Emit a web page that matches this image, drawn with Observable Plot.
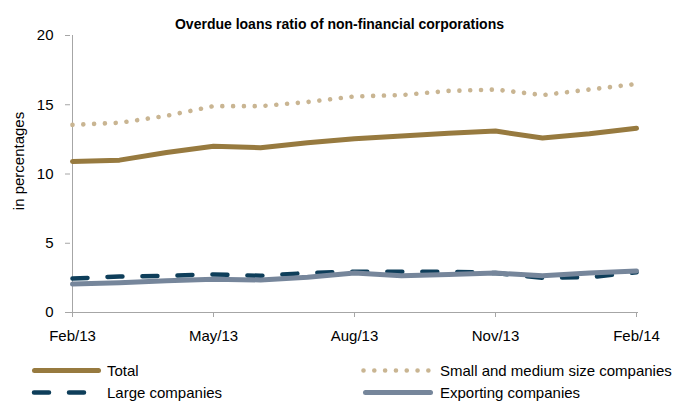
<!DOCTYPE html>
<html>
<head>
<meta charset="utf-8">
<script src="https://cdn.jsdelivr.net/npm/d3@7"></script>
<script src="https://cdn.jsdelivr.net/npm/@observablehq/plot@0.6"></script>
<style>
  html, body { margin: 0; padding: 0; background: #fff; }
  #wrap { position: relative; width: 675px; height: 403px; overflow: hidden; background: #fff; }
  #title { position: absolute; left: 0; width: 679px; text-align: center; font-weight: bold; color: #000; line-height: 20px; white-space: nowrap; }
  #chart { position: absolute; left: 0; top: 28px; }
  #legend { position: absolute; left: 0; top: 350px; }
  svg { overflow: visible; }
</style>
</head>
<body>
<div id="wrap">
  <div id="title">Overdue loans ratio of non-financial corporations</div>
  <div id="chart"></div>
  <div id="legend"></div>
</div>
<script>
// ---- data ----
const months = ["Feb/13","Mar/13","Apr/13","May/13","Jun/13","Jul/13","Aug/13","Sep/13","Oct/13","Nov/13","Dec/13","Jan/14","Feb/14"];
const total     = [10.9, 11.0, 11.55, 12.0, 11.9, 12.25, 12.55, 12.75, 12.95, 13.1, 12.6, 12.9, 13.3];
const sme       = [13.55, 13.7, 14.2, 14.9, 14.9, 15.2, 15.6, 15.7, 16.0, 16.1, 15.7, 16.1, 16.5];
const large     = [2.45, 2.6, 2.65, 2.75, 2.65, 2.85, 2.95, 2.95, 2.95, 2.85, 2.5, 2.55, 2.9];
const exporting = [2.05, 2.15, 2.3, 2.4, 2.35, 2.55, 2.85, 2.65, 2.75, 2.85, 2.65, 2.85, 3.0];
const seriesNames = ["Total", "Small and medium size companies", "Large companies", "Exporting companies"];
const xTickLabels = ["Feb/13","May/13","Aug/13","Nov/13","Feb/14"];
const yTicks = [0, 5, 10, 15, 20];

// ---- styles ----
const seriesColors = ["#977A3F", "#C9B592", "#0E3E5A", "#76869B"];
const seriesStyles = [
  {strokeWidth: 5, strokeLinecap: "round", strokeLinejoin: "round"},
  {strokeWidth: 4.6, strokeDasharray: "0.01 10.8", strokeLinecap: "round"},
  {strokeWidth: 4.5, strokeDasharray: "15 20", strokeLinecap: "round"},
  {strokeWidth: 5, strokeLinecap: "round", strokeLinejoin: "round"}
];

function hasFont(name) {
  const c = document.createElement("canvas").getContext("2d");
  const s = "abcdefghijklmnopqrstuvwxyzABCDEFGHIJ0123456789";
  c.font = "40px monospace"; const w0 = c.measureText(s).width;
  c.font = `40px "${name}", monospace`; const w1 = c.measureText(s).width;
  return Math.abs(w0 - w1) > 1;
}
const narrow = hasFont("Liberation Sans Narrow");
const fam = narrow ? '"Liberation Sans Narrow", "Liberation Sans", Arial, sans-serif' : '"Liberation Sans", Arial, sans-serif';
const fs = narrow ? 18 : 15;
const tfs = narrow ? 17 : 14;

const title = document.getElementById("title");
title.style.fontFamily = fam;
title.style.fontSize = tfs + "px";
title.style.top = (narrow ? 12.4 : 13.5) + "px";

const values = [total, sme, large, exporting];
const data = seriesNames.flatMap((name, i) => months.map((m, j) => ({name, month: m, value: values[i][j]})));

const plot = Plot.plot({
  width: 675,
  height: 322,
  marginTop: 7,
  marginBottom: 38,
  marginLeft: 70,
  marginRight: 37,
  style: {fontFamily: fam, fontSize: fs + "px", color: "#000", background: "transparent"},
  x: {type: "point", domain: months, padding: 0},
  y: {domain: [0, 20]},
  marks: [
    Plot.ruleY([0], {stroke: "#A6A6A6", strokeWidth: 1}),
    Plot.ruleX([months[0]], {stroke: "#A6A6A6", strokeWidth: 1}),
    Plot.axisY({ticks: yTicks, tickSize: 5, tickPadding: narrow ? 11 : 12, stroke: "#A6A6A6", fill: "#000", label: null, fontSize: fs}),
    Plot.axisX({ticks: xTickLabels, tickSize: 5, tickPadding: narrow ? 11 : 13, stroke: "#A6A6A6", fill: "#000", label: null, fontSize: fs}),
    ...seriesNames.map((name, i) => Plot.line(data.filter(d => d.name === name), {
      x: "month", y: "value", stroke: seriesColors[i], ...seriesStyles[i]
    })),
    Plot.text(["in percentages"], {frameAnchor: "left", textAnchor: "middle", dx: -51, dy: -13, rotate: -90, fontSize: fs, fill: "#000"})
  ]
});
document.getElementById("chart").appendChild(plot);

// ---- legend ----
const legItems = [
  {i: 0, x1: 34.5, x2: 98.5, tx: 107, cy: 20.5},
  {i: 1, x1: 363.5, x2: 430, tx: 440, cy: 20.5},
  {i: 2, x1: 34, x2: 86, tx: 107, cy: 42.5},
  {i: 3, x1: 365.5, x2: 430.5, tx: 440, cy: 42.5}
];
const leg = d3.create("svg").attr("width", 675).attr("height", 53)
  .style("font-family", fam).style("font-size", fs + "px");
for (const it of legItems) {
  const st = seriesStyles[it.i];
  leg.append("line")
    .attr("x1", it.x1).attr("x2", it.x2).attr("y1", it.cy).attr("y2", it.cy)
    .attr("stroke", seriesColors[it.i])
    .attr("stroke-width", st.strokeWidth)
    .attr("stroke-linecap", st.strokeLinecap || "butt")
    .attr("stroke-dasharray", st.strokeDasharray || null);
  leg.append("text").attr("x", it.tx).attr("y", it.cy + 5.5).attr("fill", "#000").text(seriesNames[it.i]);
}
document.getElementById("legend").appendChild(leg.node());
</script>
</body>
</html>
